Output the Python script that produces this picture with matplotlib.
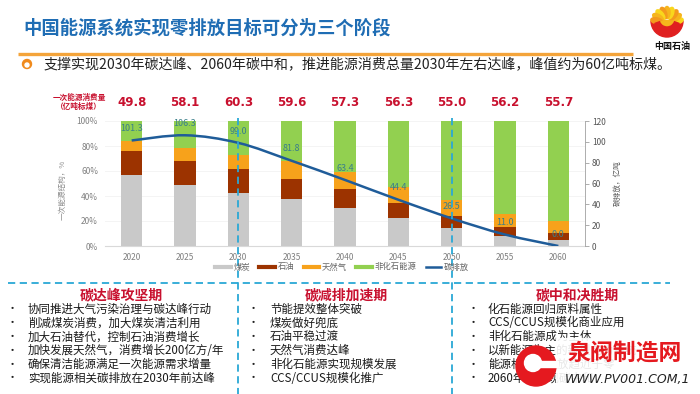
import matplotlib
matplotlib.use("Agg")
import matplotlib.pyplot as plt
from matplotlib.lines import Line2D
from matplotlib.patches import Circle, Wedge, Rectangle, Ellipse, PathPatch
from matplotlib.path import Path
from matplotlib.transforms import blended_transform_factory
import numpy as np

plt.rcParams["font.family"] = ["Noto Sans CJK SC", "DejaVu Sans"]

# ---- data ----
years = ["2020", "2025", "2030", "2035", "2040", "2045", "2050", "2055", "2060"]
coal = [56.6, 48.5, 42.7, 37.9, 30.7, 22.4, 14.4, 8.0, 4.8]
oil = [19.4, 19.2, 18.6, 15.7, 14.9, 12.0, 9.6, 7.5, 5.9]
gas = [8.0, 10.7, 11.7, 14.1, 13.4, 13.1, 12.8, 10.1, 9.6]
non_fossil = [16.0, 21.6, 27.0, 32.3, 41.0, 52.5, 63.2, 74.4, 79.7]
total_energy = [49.8, 58.1, 60.3, 59.6, 57.3, 56.3, 55.0, 56.2, 55.7]
emission = [101.3, 106.3, 99.0, 81.8, 63.4, 44.4, 26.5, 11.0, 0.0]
stage_years = ["2030", "2050"]

series_names = ["煤炭", "石油", "天然气", "非化石能源"]
line_name = "碳排放"

stage_titles = ["碳达峰攻坚期", "碳减排加速期", "碳中和决胜期"]
stage_items = [
    ["协同推进大气污染治理与碳达峰行动", "削减煤炭消费，加大煤炭清洁利用",
     "加大石油替代，控制石油消费增长", "加快发展天然气，消费增长200亿方/年",
     "确保清洁能源满足一次能源需求增量", "实现能源相关碳排放在2030年前达峰"],
    ["节能提效整体突破", "煤炭做好兜底", "石油平稳过渡", "天然气消费达峰",
     "非化石能源实现规模发展", "CCS/CCUS规模化推广"],
    ["化石能源回归原料属性", "CCS/CCUS规模化商业应用", "非化石能源成为主体",
     "以新能源为主的新型电力系统", "能源相关碳排放趋近于零", "2060年前实现碳中和"],
]

title = "中国能源系统实现零排放目标可分为三个阶段"
subtitle = "支撑实现2030年碳达峰、2060年碳中和，推进能源消费总量2030年左右达峰，峰值约为60亿吨标煤。"

colors = ["#c9c9c9", "#9c3300", "#f7a21b", "#92d050"]
line_color = "#1f5c99"
red = "#c8102e"
dash_color = "#2aa8d6"
W, H = 700, 394


def smooth_path(xs, ys):
    verts = [(xs[0], ys[0])]
    codes = [Path.MOVETO]
    n = len(xs)
    for i in range(n - 1):
        x0, y0 = (xs[i - 1], ys[i - 1]) if i > 0 else (xs[i], ys[i])
        x3, y3 = (xs[i + 2], ys[i + 2]) if i + 2 < n else (xs[i + 1], ys[i + 1])
        c1 = (xs[i] + (xs[i + 1] - x0) / 6, ys[i] + (ys[i + 1] - y0) / 6)
        c2 = (xs[i + 1] - (x3 - xs[i]) / 6, ys[i + 1] - (y3 - ys[i]) / 6)
        verts += [c1, c2, (xs[i + 1], ys[i + 1])]
        codes += [Path.CURVE4] * 3
    return Path(verts, codes)


fig = plt.figure(figsize=(7, 3.94), dpi=100)
fig.patch.set_facecolor("white")

# ---- chart ----
ax = fig.add_axes([105 / W, 1 - 246 / H, 480 / W, 125 / H])
ax.patch.set_alpha(0)
x = np.arange(len(years))
bottom = np.zeros(len(years))
for vals, c in zip([coal, oil, gas, non_fossil], colors):
    ax.bar(x, vals, width=0.4, bottom=bottom, color=c, zorder=2)
    bottom += np.array(vals)
ax.set_xlim(-0.5, len(years) - 0.5)
ax.set_ylim(0, 100)
ax.set_yticks(range(0, 101, 20))
ax.set_yticklabels([f"{v}%" for v in range(0, 101, 20)])
ax.set_xticks(x)
ax.set_xticklabels(years)
ax.tick_params(axis="both", length=0, labelsize=6, labelcolor="#808080")
ax.tick_params(axis="y", pad=5)
ax.tick_params(axis="x", pad=5)
for s in ["top", "left", "right"]:
    ax.spines[s].set_visible(False)
ax.spines["bottom"].set_color("#d9d9d9")
ax.grid(axis="y", color="#f2f2f2", lw=0.6, zorder=0)

for xi, v in zip(x, total_energy):
    ax.text(xi, 1.144, f"{v:.1f}", transform=blended_transform_factory(ax.transData, ax.transAxes),
            ha="center", va="center", color=red, fontsize=8.5, fontweight="bold",
            family=["DejaVu Sans"])

ax2 = ax.twinx()
ax2.set_ylim(0, 120)
ax2.set_yticks(range(0, 121, 20))
ax2.tick_params(axis="y", length=3, width=0.6, color="#a0a0a0", labelsize=6,
                labelcolor="#555555", pad=2)
for s in ["top", "left", "bottom"]:
    ax2.spines[s].set_visible(False)
ax2.spines["right"].set_color("#a0a0a0")
ax2.spines["right"].set_linewidth(0.6)
ax2.add_patch(PathPatch(smooth_path(list(x), emission), fill=False,
                        edgecolor=line_color, lw=1.8, zorder=3))
for xi, v in zip(x, emission):
    ax2.annotate(f"{v:.1f}", (xi, v), xytext=(0, 8.5), textcoords="offset points",
                 ha="center", va="center", fontsize=6.5, color="#3a7f8a", zorder=4)

fig.text(63 / W, 1 - 190 / H, "一次能源结构，%", rotation=90, ha="center", va="center",
         fontsize=5.5, color="#8c8c8c")
fig.text(618 / W, 1 - 183 / H, "碳排放，亿吨", rotation=90, ha="center", va="center",
         fontsize=5.5, color="#555555")
fig.text(79 / W, 1 - 97 / H, "一次能源消费量", ha="center", va="center", fontsize=5.5,
         color=red, fontweight="bold")
fig.text(79 / W, 1 - 107 / H, "（亿吨标煤）", ha="center", va="center", fontsize=5.5,
         color=red, fontweight="bold")

handles = [Line2D([], [], color=c, lw=3) for c in colors] + [Line2D([], [], color=line_color, lw=1.8)]
fig.legend(handles, series_names + [line_name], loc="center", bbox_to_anchor=(342 / W, 1 - 267 / H),
           ncol=5, frameon=False, fontsize=6, handlelength=1.9, handletextpad=0.3,
           columnspacing=1.1, labelcolor="#666666")

# stage dividers (vertical dashed lines at 2030 and 2050)
vtrans = blended_transform_factory(ax.transData, fig.transFigure)
for yr in stage_years:
    xi = years.index(yr)
    fig.add_artist(Line2D([xi, xi], [1 - 118 / H, 0], transform=vtrans, color=dash_color,
                          lw=1.3, ls=(0, (4, 2.5)), zorder=5))

# ---- overlay in pixel coordinates for header and text boxes ----
ov = fig.add_axes([0, 0, 1, 1], zorder=6)
ov.set_xlim(0, W)
ov.set_ylim(H, 0)
ov.axis("off")
ov.patch.set_alpha(0)

ov.text(23, 28, title, ha="left", va="center", fontsize=13.2, fontweight="bold", color="#1f6db4")
ov.plot([18, 633], [54, 54], color="#f4a43a", lw=2.4, solid_capstyle="butt")
ov.add_patch(Circle((27, 64), 4.5, color="#f08a1c"))
ov.add_patch(Circle((27, 65), 2.0, color="white"))
ov.text(44, 64, subtitle, ha="left", va="center", fontsize=10.1, color="#222222")

# logo
ov.add_patch(Wedge((667, 21), 16, 0, 180, color="#e02020"))
for k, ang in enumerate(np.linspace(12, 168, 9)):
    a = np.deg2rad(ang)
    ov.add_patch(Ellipse((667 + 10.5 * np.cos(a), 23 - 10.5 * np.sin(a)), 12, 6, angle=-ang,
                         color=["#f9d71c", "#f6b51c", "#f39a1c"][k % 3]))
ov.add_patch(Ellipse((667, 24), 14, 7, color="#f6b51c"))
ov.add_patch(Wedge((667, 19), 13, 20, 160, width=5, color="#e02020"))
ov.text(672, 46, "中国石油", ha="center", va="center", fontsize=6.5, fontweight="bold", color="#111111")

# horizontal dashed line above stage boxes
ov.plot([8, 670], [283, 283], color=dash_color, lw=1.3, ls=(0, (4, 2.5)))

stage_title_x = [121, 346, 577]
bullet_x = [12, 253, 473]
text_x = [28, 270, 488]
for t, items, tx, bx, xx in zip(stage_titles, stage_items, stage_title_x, bullet_x, text_x):
    ov.text(tx, 295, t, ha="center", va="center", fontsize=10, fontweight="bold", color=red)
    for k, it in enumerate(items):
        yy = 309 + k * 13.9
        ov.text(bx, yy, "•", ha="center", va="center", fontsize=8, color="#222222")
        ov.text(xx, yy, it, ha="left", va="center", fontsize=8.3, fontweight="medium",
                color="#1a1a1a")

# watermark
ov.add_patch(Rectangle((556, 338), 134, 54, color="white", alpha=0.9, zorder=7))
ov.add_patch(Circle((536, 366), 20, color="#e5191f", zorder=8))
ov.add_patch(Rectangle((536, 361), 22, 6, color="white", zorder=8))
ov.add_patch(Circle((533, 363), 8.5, color="white", zorder=9))
ov.text(625, 353, "泉阀制造网", ha="center", va="center", fontsize=16.5, fontweight="bold",
        color="#e5191f", zorder=10)
ov.text(628, 380, "WWW.PV001.COM,1", ha="center", va="center", fontsize=9.0, style="italic",
        color="#222222", family=["DejaVu Sans"], zorder=10)

fig.savefig("out.png", dpi=100)
